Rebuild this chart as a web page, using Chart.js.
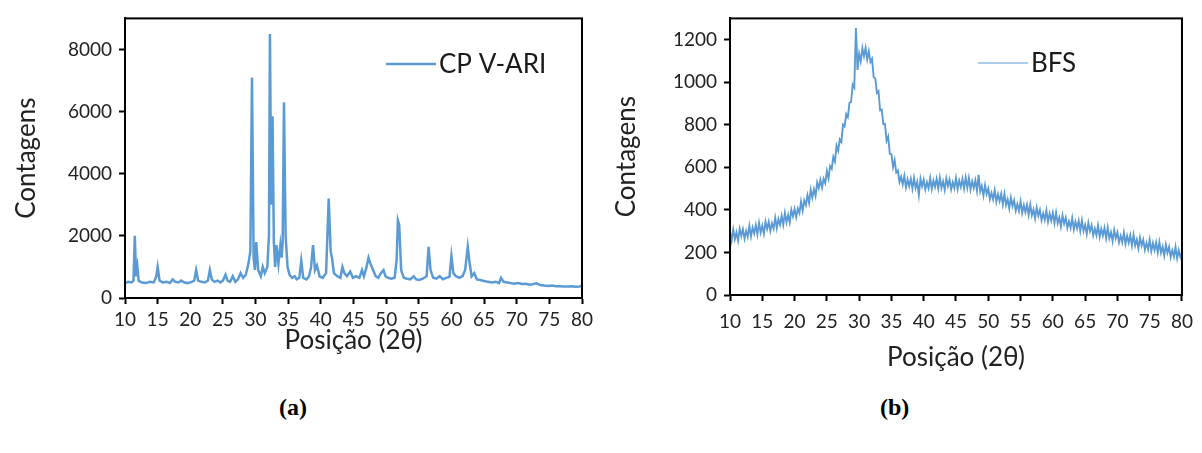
<!DOCTYPE html>
<html>
<head>
<meta charset="utf-8">
<script src="https://cdn.jsdelivr.net/npm/chart.js@4"></script>
<style>
  body { margin: 0; background: #fff; width: 1202px; height: 453px; position: relative; overflow: hidden; }
  #boxA { position: absolute; left: 0; top: 0; width: 600px; height: 360px; }
  #boxB { position: absolute; left: 600px; top: 0; width: 602px; height: 380px; }
  .cap { position: absolute; top: 394px; font: bold 24px "Liberation Serif", serif; color: #000; }
</style>
</head>
<body>
<div id="boxA"><canvas id="chartA"></canvas></div>
<div id="boxB"><canvas id="chartB"></canvas></div>
<div class="cap" style="left:279px">(a)</div>
<div class="cap" style="left:880px">(b)</div>
<script>
// tick labels
const angleTicks = [10, 15, 20, 25, 30, 35, 40, 45, 50, 55, 60, 65, 70, 75, 80];
const cpYTicks = [0, 2000, 4000, 6000, 8000];
const bfsYTicks = [0, 200, 400, 600, 800, 1000, 1200];

// CP V-ARI diffractogram
const cpAngle = [
  10.0, 10.5, 11.0, 11.3, 11.5, 11.7, 11.9, 12.1, 12.6, 13.2, 13.8, 14.4, 14.8, 15.0, 15.3, 15.8,
  16.4, 16.9, 17.3, 17.7, 18.2, 18.6, 19.1, 19.6, 20.2, 20.6, 20.9, 21.2, 21.7, 22.2, 22.7, 23.0,
  23.3, 23.7, 24.2, 24.6, 25.0, 25.4, 25.7, 26.1, 26.5, 26.9, 27.3, 27.7, 28.1, 28.5, 28.9, 29.2,
  29.45, 29.7, 29.9, 30.1, 30.4, 30.8, 31.1, 31.4, 31.8, 32.05, 32.2, 32.4, 32.6, 32.8, 33.0, 33.2,
  33.5, 33.8, 34.0, 34.15, 34.35, 34.6, 34.9, 35.2, 35.6, 36.0, 36.3, 36.7, 37.0, 37.3, 37.8, 38.2,
  38.5, 38.8, 39.1, 39.4, 39.8, 40.3, 40.8, 41.2, 41.5, 41.7, 42.0, 42.5, 43.0, 43.3, 43.6, 44.0,
  44.5, 44.9, 45.4, 45.9, 46.3, 46.6, 47.0, 47.3, 47.6, 48.0, 48.4, 48.8, 49.2, 49.6, 49.9, 50.3,
  50.8, 51.3, 51.6, 51.8, 52.0, 52.3, 52.7, 53.2, 53.7, 54.2, 54.6, 55.1, 55.6, 56.2, 56.5, 56.8,
  57.2, 57.7, 58.2, 58.7, 59.2, 59.7, 60.0, 60.3, 60.7, 61.2, 61.7, 62.1, 62.5, 62.8, 63.1, 63.5,
  63.9, 64.4, 65.0, 65.6, 66.2, 66.8, 67.3, 67.6, 68.0, 68.5, 69.0, 69.6, 70.2, 70.8, 71.4, 72.0,
  72.6, 73.0, 73.6, 74.2, 74.8, 75.4, 76.0, 76.6, 77.2, 77.8, 78.4, 79.0, 79.6, 80.0
];
const cpCounts = [
  480, 520, 500, 560, 2000, 700, 1000, 550, 500, 480, 520, 500, 700, 1000, 560, 500,
  520, 480, 600, 520, 500, 560, 500, 480, 520, 560, 900, 560, 520, 500, 560, 900,
  600, 520, 560, 500, 560, 750, 560, 520, 700, 520, 600, 800, 650, 750, 1100, 1500,
  7100, 1300, 900, 1800, 900, 700, 1000, 800, 1000, 2000, 8500, 3000, 5850, 1800, 1000, 1700,
  1100, 1700, 1300, 1800, 6300, 2000, 1000, 750, 650, 700, 600, 650, 1200, 650, 600, 700,
  1000, 1700, 900, 1050, 700, 650, 800, 3200, 1500, 1300, 800, 700, 650, 1000, 800, 700,
  850, 650, 700, 650, 900, 700, 1000, 1300, 1100, 900, 700, 650, 800, 900, 700, 650,
  620, 650, 1200, 2500, 2350, 900, 650, 620, 600, 700, 600, 580, 620, 700, 1650, 900,
  650, 620, 700, 600, 650, 680, 1350, 800, 700, 650, 700, 900, 1650, 1100, 700, 800,
  600, 580, 550, 520, 500, 520, 480, 650, 520, 500, 480, 460, 480, 450, 460, 430,
  450, 470, 420, 400, 390, 400, 380, 380, 370, 370, 375, 360, 370, 390
];

// BFS diffractogram (amorphous hump, noisy band), 0.25 degree steps
const bfsAngle = [
  10, 10.25, 10.5, 10.75, 11, 11.25, 11.5, 11.75, 12, 12.25, 12.5, 12.75, 13, 13.25, 13.5, 13.75,
  14, 14.25, 14.5, 14.75, 15, 15.25, 15.5, 15.75, 16, 16.25, 16.5, 16.75, 17, 17.25, 17.5, 17.75,
  18, 18.25, 18.5, 18.75, 19, 19.25, 19.5, 19.75, 20, 20.25, 20.5, 20.75, 21, 21.25, 21.5, 21.75,
  22, 22.25, 22.5, 22.75, 23, 23.25, 23.5, 23.75, 24, 24.25, 24.5, 24.75, 25, 25.25, 25.5, 25.75,
  26, 26.25, 26.5, 26.75, 27, 27.25, 27.5, 27.75, 28, 28.25, 28.5, 28.75, 29, 29.25, 29.5, 29.75,
  30, 30.25, 30.5, 30.75, 31, 31.25, 31.5, 31.75, 32, 32.25, 32.5, 32.75, 33, 33.25, 33.5, 33.75,
  34, 34.25, 34.5, 34.75, 35, 35.25, 35.5, 35.75, 36, 36.25, 36.5, 36.75, 37, 37.25, 37.5, 37.75,
  38, 38.25, 38.5, 38.75, 39, 39.25, 39.5, 39.75, 40, 40.25, 40.5, 40.75, 41, 41.25, 41.5, 41.75,
  42, 42.25, 42.5, 42.75, 43, 43.25, 43.5, 43.75, 44, 44.25, 44.5, 44.75, 45, 45.25, 45.5, 45.75,
  46, 46.25, 46.5, 46.75, 47, 47.25, 47.5, 47.75, 48, 48.25, 48.5, 48.75, 49, 49.25, 49.5, 49.75,
  50, 50.25, 50.5, 50.75, 51, 51.25, 51.5, 51.75, 52, 52.25, 52.5, 52.75, 53, 53.25, 53.5, 53.75,
  54, 54.25, 54.5, 54.75, 55, 55.25, 55.5, 55.75, 56, 56.25, 56.5, 56.75, 57, 57.25, 57.5, 57.75,
  58, 58.25, 58.5, 58.75, 59, 59.25, 59.5, 59.75, 60, 60.25, 60.5, 60.75, 61, 61.25, 61.5, 61.75,
  62, 62.25, 62.5, 62.75, 63, 63.25, 63.5, 63.75, 64, 64.25, 64.5, 64.75, 65, 65.25, 65.5, 65.75,
  66, 66.25, 66.5, 66.75, 67, 67.25, 67.5, 67.75, 68, 68.25, 68.5, 68.75, 69, 69.25, 69.5, 69.75,
  70, 70.25, 70.5, 70.75, 71, 71.25, 71.5, 71.75, 72, 72.25, 72.5, 72.75, 73, 73.25, 73.5, 73.75,
  74, 74.25, 74.5, 74.75, 75, 75.25, 75.5, 75.75, 76, 76.25, 76.5, 76.75, 77, 77.25, 77.5, 77.75,
  78, 78.25, 78.5, 78.75, 79, 79.25, 79.5, 79.75, 80
];
const bfsCounts = [
  299, 255, 308, 262, 294, 256, 311, 277, 309, 265, 301, 275, 325, 275, 317, 289,
  329, 285, 339, 294, 326, 288, 345, 311, 344, 301, 337, 312, 363, 314, 357, 330,
  372, 330, 386, 342, 376, 341, 400, 369, 405, 366, 406, 385, 440, 396, 444, 422,
  469, 433, 495, 457, 497, 466, 529, 502, 542, 504, 546, 526, 583, 548, 606, 593,
  649, 627, 702, 678, 732, 719, 801, 792, 850, 836, 903, 907, 988, 974, 1255, 1058,
  1134, 1098, 1160, 1122, 1162, 1107, 1146, 1095, 1110, 1024, 1018, 950, 958, 868, 871, 803,
  804, 725, 745, 664, 662, 601, 634, 576, 585, 531, 556, 520, 560, 506, 543, 511,
  546, 500, 551, 503, 532, 470, 547, 511, 542, 496, 530, 502, 550, 498, 538, 508,
  546, 500, 552, 504, 534, 494, 548, 512, 542, 496, 530, 502, 550, 498, 538, 508,
  546, 500, 552, 504, 550, 496, 534, 503, 539, 489, 565, 486, 512, 467, 516, 475,
  500, 450, 480, 449, 493, 438, 474, 441, 476, 426, 475, 423, 450, 407, 458, 418,
  445, 396, 427, 396, 441, 386, 422, 389, 424, 376, 425, 375, 402, 360, 411, 373,
  400, 352, 383, 353, 398, 344, 382, 350, 386, 338, 387, 337, 364, 322, 374, 335,
  363, 315, 346, 316, 362, 308, 345, 313, 349, 301, 351, 301, 329, 287, 339, 300,
  328, 280, 312, 281, 327, 273, 311, 279, 315, 267, 317, 267, 295, 253, 305, 267,
  295, 247, 278, 248, 294, 240, 278, 245, 281, 233, 283, 233, 261, 219, 270, 232,
  260, 212, 244, 214, 260, 206, 244, 211, 247, 199, 249, 199, 227, 185, 236, 198,
  226, 178, 210, 180, 226, 172, 210, 178, 200
];

const lineColor = "#5B9BD5";
const fontFamily = "Lato, 'Open Sans', sans-serif";

// frame around the plot + legend drawn inside the plot
const framePlugin = {
  id: "frame",
  afterDraw(chart, args, opts) {
    const { ctx, chartArea } = chart;
    ctx.save();
    ctx.strokeStyle = "#000";
    ctx.lineWidth = 2;
    ctx.strokeRect(chartArea.left, chartArea.top, chartArea.right - chartArea.left, chartArea.bottom - chartArea.top);

    const ds = chart.data.datasets[0];
    ctx.strokeStyle = ds.borderColor;
    ctx.lineWidth = opts.lineWidth;
    ctx.beginPath();
    ctx.moveTo(opts.x, opts.y);
    ctx.lineTo(opts.x + 50, opts.y);
    ctx.stroke();
    ctx.fillStyle = "#1a1a1a";
    ctx.font = opts.size + "px " + fontFamily;
    ctx.textBaseline = "middle";
    ctx.fillText(ds.label, opts.x + 53, opts.y + 1);
    ctx.restore();
  }
};

function makeChart(id, angles, counts, label, yTicks, cfg) {

  const ctx = document.getElementById(id);

  return new Chart(ctx, {
    type: "line",
    data: {
      datasets: [{
        label: label,
        data: angles.map((a, i) => ({ x: a, y: counts[i] })),
        borderColor: lineColor,
        borderWidth: cfg.lineWidth,
        pointRadius: 0,
        tension: 0
      }]
    },
    options: {
      responsive: true,
      maintainAspectRatio: false,
      animation: false,
      events: [],
      layout: { padding: { top: 14, right: cfg.padRight, left: 0, bottom: 0 } },
      plugins: {
        legend: { display: false },
        tooltip: { enabled: false },
        frame: cfg.legend
      },
      scales: {
        x: {
          type: "linear",
          min: angleTicks[0],
          max: angleTicks[angleTicks.length - 1],
          afterFit: s => { s.height = cfg.xHeight; },
          afterBuildTicks: s => { s.ticks = angleTicks.map(v => ({ value: v })); },
          ticks: {
            color: "#222", padding: cfg.xTickPad, maxRotation: 0, autoSkip: false,
            font: { family: fontFamily, size: 19 },
            callback: v => String(v)
          },
          grid: { drawOnChartArea: false, tickLength: 6, tickColor: "#000", tickWidth: 2 },
          border: { color: "#000", width: 2 },
          title: {
            display: true,
            text: "Posição (2θ)",
            color: "#222",
            font: { family: fontFamily, size: 26 },
            padding: { top: 0, bottom: cfg.xTitlePad }
          }
        },
        y: {
          min: 0,
          max: cfg.yMax,
          afterFit: s => { s.width = cfg.yWidth; },
          afterBuildTicks: s => { s.ticks = yTicks.map(v => ({ value: v })); },
          ticks: {
            color: "#222", padding: 7, autoSkip: false,
            font: { family: fontFamily, size: 19 },
            callback: v => String(v)
          },
          grid: { drawOnChartArea: false, tickLength: 6, tickColor: "#000", tickWidth: 2 },
          border: { color: "#000", width: 2 },
          title: {
            display: true,
            text: "Contagens",
            color: "#222",
            font: { family: fontFamily, size: 26 },
            padding: { top: 11, bottom: 0 }
          }
        }
      }
    },
    plugins: [framePlugin]
  });
}

makeChart("chartA", cpAngle, cpCounts, "CP V-ARI", cpYTicks, {
  lineWidth: 2.5, padRight: 18, xHeight: 62, xTitlePad: 4, xTickPad: 4, yWidth: 125,
  yMax: 9000,
  legend: { x: 386, y: 64, size: 26, lineWidth: 2.5 }
});

makeChart("chartB", bfsAngle, bfsCounts, "BFS", bfsYTicks, {
  lineWidth: 1.9, padRight: 15, xHeight: 85, xTitlePad: 7, xTickPad: 9, yWidth: 130,
  yMax: 1300,
  legend: { x: 378, y: 63, size: 26, lineWidth: 1.2 }
});
</script>
</body>
</html>
